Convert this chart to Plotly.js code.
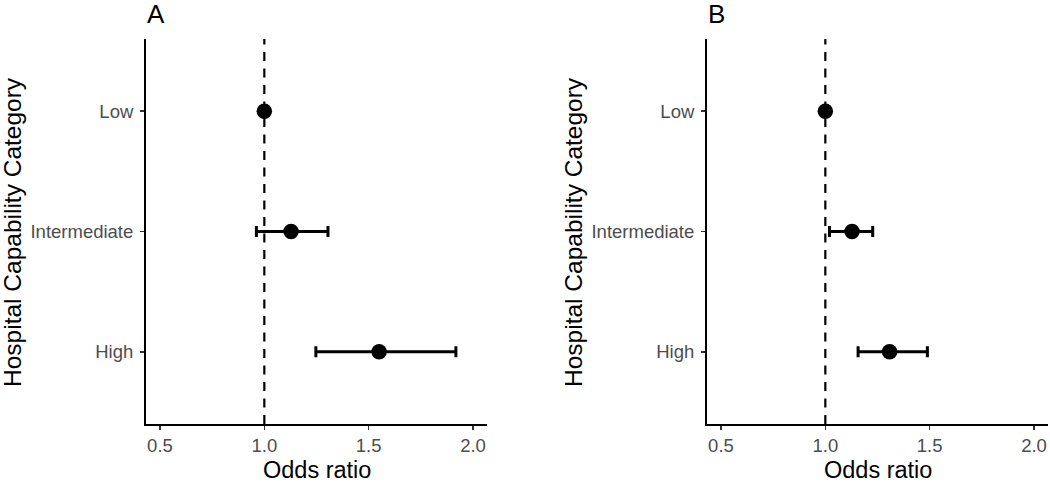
<!DOCTYPE html>
<html>
<head>
<meta charset="utf-8">
<script src="https://cdn.plot.ly/plotly-3.0.1.min.js"></script>
<style>html,body{margin:0;padding:0;background:#fff;}#chart{width:1050px;height:482px;}</style>
</head>
<body>
<div id="chart"></div>
<script>
const categories = ["Low", "Intermediate", "High"];
const orA = [1.0, 1.128, 1.55];
const loA = [1.0, 0.962, 1.247];
const hiA = [1.0, 1.305, 1.918];
const orB = [1.0, 1.128, 1.308];
const loB = [1.0, 1.02, 1.157];
const hiB = [1.0, 1.227, 1.489];
const xTicks = [0.5, 1.0, 1.5, 2.0];
const xTickText = ["0.5", "1.0", "1.5", "2.0"];
const panelLabels = ["A", "B"];
const xTitle = "Odds ratio";
const yTitle = "Hospital Capability Category";

const yPos = [3, 2, 1];
const FONT = "Liberation Sans, Arial, sans-serif";

function mkTrace(or, lo, hi, xa, ya) {
  const plus = or.map((v, i) => hi[i] - v);
  const minus = or.map((v, i) => v - lo[i]);
  return {
    type: "scatter", mode: "markers",
    x: or, y: yPos, xaxis: xa, yaxis: ya,
    marker: {color: "#000", size: 15.5},
    error_x: {type: "data", symmetric: false, array: plus, arrayminus: minus,
      color: "#000", thickness: 3, width: 5.5},
    showlegend: false, hoverinfo: "x+y"
  };
}

const axX = (dom, anchor) => ({
  domain: dom, anchor: anchor, range: [0.433, 2.067],
  tickmode: "array", tickvals: xTicks, ticktext: xTickText,
  showgrid: false, zeroline: false, showline: true, linecolor: "#000", linewidth: 2,
  ticks: "outside", ticklen: 4, tickwidth: 1.5, tickcolor: "#333",
  tickfont: {family: FONT, size: 18.5, color: "#4d4d4d"}
});
const axY = (anchor) => ({
  domain: [0.1203, 0.9191], anchor: anchor, range: [0.4, 3.6],
  tickmode: "array", tickvals: yPos, ticktext: categories,
  showgrid: false, zeroline: false, showline: true, linecolor: "#000", linewidth: 2,
  ticks: "outside", ticklen: 4, tickwidth: 1.5, tickcolor: "#333",
  ticklabelstandoff: 3,
  tickfont: {family: FONT, size: 18.5, color: "#4d4d4d"}
});

const data = [mkTrace(orA, loA, hiA, "x", "y"), mkTrace(orB, loB, hiB, "x2", "y2")];

const W = 1050, H = 482;
const ann = [];
[[146, 487], [707, 1048]].forEach((p, i) => {
  ann.push({text: panelLabels[i], xref: "paper", yref: "paper", x: p[0] / W, y: 1, xanchor: "left", yanchor: "top",
    xshift: -1, yshift: 3, showarrow: false, font: {family: FONT, size: 26, color: "#000"}});
  ann.push({text: xTitle, xref: "paper", yref: "paper", x: (p[0] + p[1]) / 2 / W, y: 1 - 470 / H, xanchor: "center", yanchor: "middle",
    showarrow: false, font: {family: FONT, size: 23.5, color: "#000"}});
  ann.push({text: yTitle, xref: "paper", yref: "paper", x: (i === 0 ? 12 : 573) / W, y: 1 - 232 / H, xanchor: "center", yanchor: "middle",
    textangle: -90, showarrow: false, font: {family: FONT, size: 24.5, color: "#000"}});
});

const layout = {
  width: W, height: H,
  margin: {l: 0, r: 0, t: 0, b: 0},
  paper_bgcolor: "#fff", plot_bgcolor: "#fff",
  xaxis: axX([146 / W, 487 / W], "y"),
  yaxis: axY("x"),
  xaxis2: axX([707 / W, 1048 / W], "y2"),
  yaxis2: axY("x2"),
  shapes: [
    {type: "line", xref: "x", yref: "y domain", x0: 1, x1: 1, y0: 0, y1: 1, line: {color: "#000", width: 2.2, dash: "9px,7.5px"}},
    {type: "line", xref: "x2", yref: "y2 domain", x0: 1, x1: 1, y0: 0, y1: 1, line: {color: "#000", width: 2.2, dash: "9px,7.5px"}}
  ],
  annotations: ann
};

Plotly.newPlot("chart", data, layout, {displayModeBar: false, staticPlot: true});
</script>
</body>
</html>
